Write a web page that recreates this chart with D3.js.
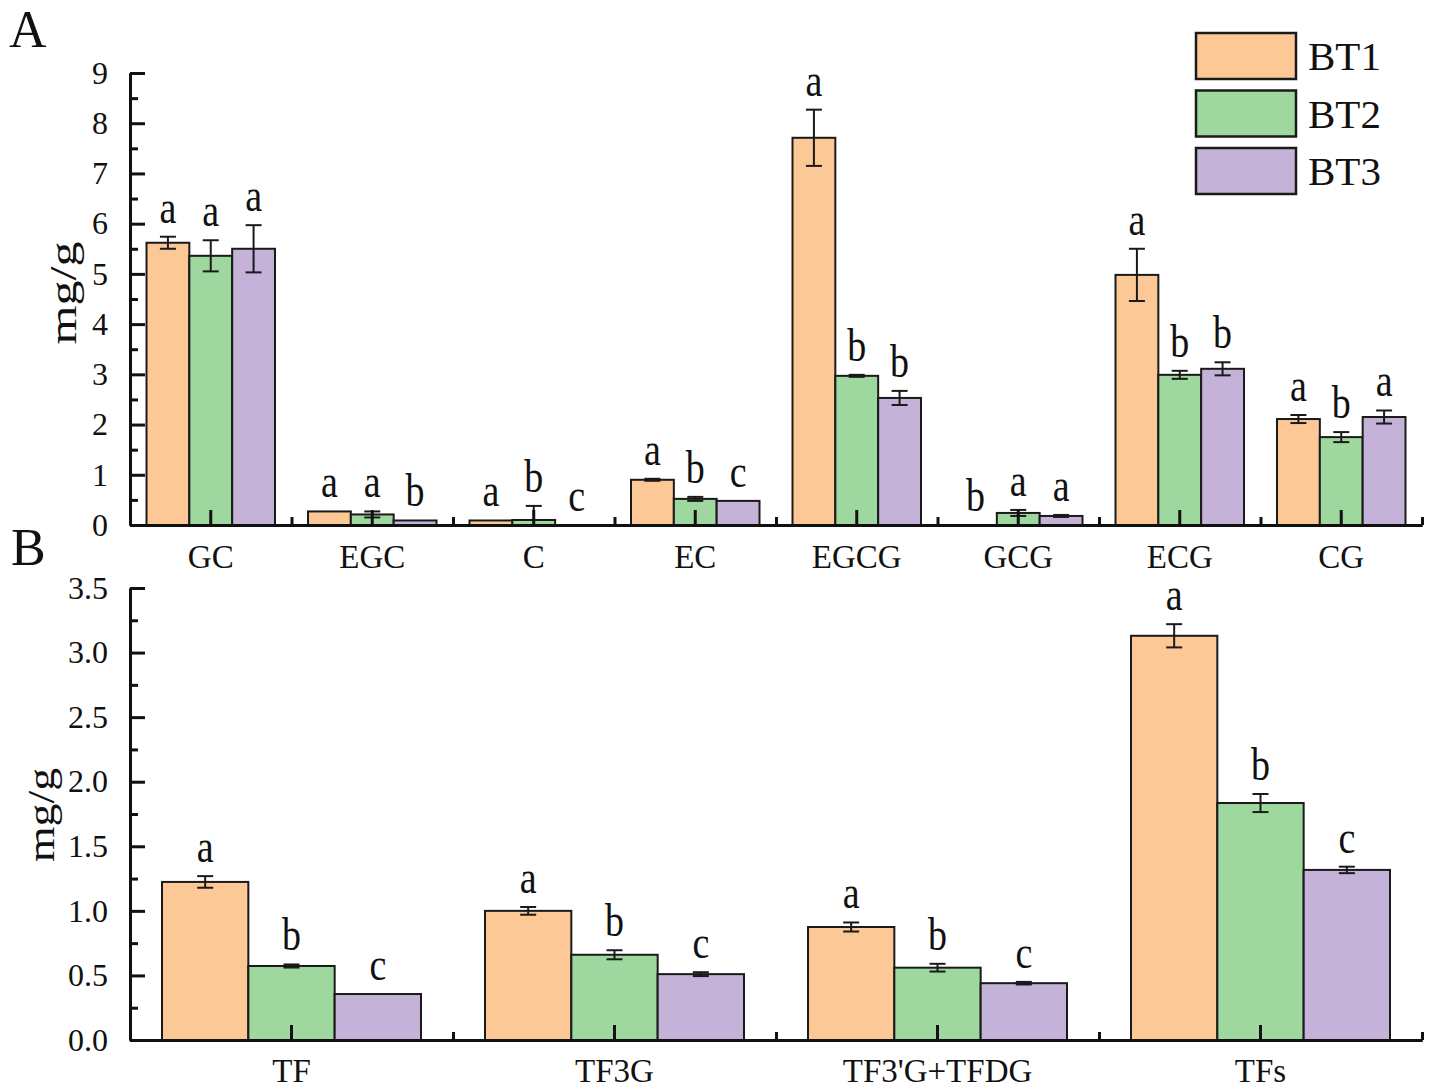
<!DOCTYPE html>
<html>
<head>
<meta charset="utf-8">
<script src="https://cdn.jsdelivr.net/npm/d3@7"></script>
<style>
body { margin: 0; background: #fff; }
text { font-family: "Liberation Serif", "Times New Roman", serif; fill: #111; }
</style>
</head>
<body>
<svg id="chart" width="1429" height="1091"></svg>
<script>
"use strict"

// series
const series = ["BT1", "BT2", "BT3"];
const colors = ["#FCC896", "#9FD89E", "#C4B2D8"];

// panel A (catechins)
const catsA = ["GC", "EGC", "C", "EC", "EGCG", "GCG", "ECG", "CG"];
const bt1A = [5.62, 0.27, 0.09, 0.90, 7.71, 0.00, 4.98, 2.11];
const bt2A = [5.36, 0.21, 0.10, 0.52, 2.97, 0.24, 2.99, 1.75];
const bt3A = [5.50, 0.09, 0.00, 0.48, 2.53, 0.18, 3.11, 2.15];
const errA1 = [0.12, 0.00, 0.00, 0.02, 0.56, 0.00, 0.52, 0.08];
const errA2 = [0.31, 0.06, 0.28, 0.04, 0.02, 0.06, 0.08, 0.10];
const errA3 = [0.47, 0.00, 0.00, 0.00, 0.14, 0.02, 0.13, 0.13];
const letA1 = ["a", "a", "a", "a", "a", "b", "a", "a"];
const letA2 = ["a", "a", "b", "b", "b", "a", "b", "b"];
const letA3 = ["a", "b", "c", "c", "b", "a", "b", "a"];
const ticksA = [0, 1, 2, 3, 4, 5, 6, 7, 8, 9];

// panel B (theaflavins)
const catsB = ["TF", "TF3G", "TF3'G+TFDG", "TFs"];
const bt1B = [1.224, 1.00, 0.875, 3.13];
const bt2B = [0.573, 0.66, 0.56, 1.835];
const bt3B = [0.356, 0.51, 0.44, 1.317];
const errB1 = [0.045, 0.03, 0.035, 0.09];
const errB2 = [0.012, 0.035, 0.03, 0.07];
const errB3 = [0.00, 0.015, 0.01, 0.025];
const letB1 = ["a", "a", "a", "a"];
const letB2 = ["b", "b", "b", "b"];
const letB3 = ["c", "c", "c", "c"];
const ticksB = [0, 0.5, 1.0, 1.5, 2.0, 2.5, 3.0, 3.5];

const svg = d3.select("#chart");

/**
 * draws one panel of grouped bars with error bars and letters
 */
function drawPanel(opt) {
    const g = svg.append("g");
    const x = d3.scaleBand().domain(opt.cats).range([opt.left, opt.right]);
    const xs = d3.scaleBand().domain(series)
        .range([opt.pad, x.bandwidth() - opt.pad]);
    const y = d3.scaleLinear().domain([0, opt.ymax]).range([opt.bottom, opt.top]);

    const rows = [];
    opt.cats.forEach(function (c, i) {
        series.forEach(function (s, k) {
            rows.push({cat: c, s: s, k: k, v: opt.vals[k][i], e: opt.errs[k][i], l: opt.lets[k][i]});
        });
    });

    // bars
    g.selectAll("rect.bar").data(rows).join("rect")
        .attr("class", "bar")
        .attr("x", d => x(d.cat) + xs(d.s))
        .attr("y", d => y(d.v))
        .attr("width", xs.bandwidth())
        .attr("height", d => y(0) - y(d.v))
        .attr("fill", d => colors[d.k])
        .attr("stroke", "#1a1a1a")
        .attr("stroke-width", 2);

    // error bars
    const eb = g.selectAll("g.err").data(rows.filter(d => d.e > 0)).join("g")
        .attr("class", "err")
        .attr("stroke", "#1a1a1a")
        .attr("stroke-width", 2);
    const cx = d => x(d.cat) + xs(d.s) + xs.bandwidth() / 2;
    eb.append("line")
        .attr("x1", cx).attr("x2", cx)
        .attr("y1", d => y(d.v + d.e))
        .attr("y2", d => y(Math.max(0, d.v - d.e)));
    eb.append("line")
        .attr("x1", d => cx(d) - 8).attr("x2", d => cx(d) + 8)
        .attr("y1", d => y(d.v + d.e)).attr("y2", d => y(d.v + d.e));
    eb.filter(d => d.v - d.e > 0).append("line")
        .attr("x1", d => cx(d) - 8).attr("x2", d => cx(d) + 8)
        .attr("y1", d => y(d.v - d.e)).attr("y2", d => y(d.v - d.e));

    // significance letters
    g.selectAll("text.let").data(rows).join("text")
        .attr("class", "let")
        .attr("transform", d => "translate(" + cx(d) + "," + (y(d.v + d.e) - 14) + ") scale(1,1.2)")
        .attr("text-anchor", "middle")
        .style("font-size", "38px")
        .text(d => d.l);

    // y axis (inward ticks)
    const ya = g.append("g").attr("transform", "translate(" + opt.left + ",0)")
        .call(d3.axisLeft(y).tickValues(opt.ticks).tickFormat(opt.fmt)
            .tickSize(-15).tickSizeOuter(0).tickPadding(22));
    ya.selectAll("text").style("font-size", "32px").attr("fill", "#111");
    g.append("g").attr("transform", "translate(" + opt.left + ",0)")
        .call(d3.axisLeft(y).tickValues(opt.minor).tickFormat("")
            .tickSize(-8).tickSizeOuter(0));

    // x axis: major ticks at centres, minor at boundaries
    const xa = g.append("g").attr("transform", "translate(0," + opt.bottom + ")")
        .call(d3.axisBottom(x).tickSize(-15).tickSizeOuter(0).tickPadding(opt.xpad));
    xa.selectAll("text").style("font-size", "33px").attr("fill", "#111");
    const xb = d3.scaleLinear().domain([0, opt.cats.length]).range([opt.left, opt.right]);
    g.append("g").attr("transform", "translate(0," + opt.bottom + ")")
        .call(d3.axisBottom(xb).tickValues(d3.range(1, opt.cats.length + 1)).tickFormat("")
            .tickSize(-8).tickSizeOuter(0));

    g.selectAll(".domain, .tick line")
        .attr("stroke", "#111")
        .attr("stroke-width", 3);

    // y label
    g.append("text")
        .attr("transform", "translate(" + opt.labX + "," + opt.labY + ") rotate(-90)")
        .attr("text-anchor", "middle")
        .attr("textLength", opt.labLen)
        .attr("lengthAdjust", "spacingAndGlyphs")
        .style("font-size", "38px")
        .text("mg/g");

    // panel letter
    g.append("text")
        .attr("x", opt.tagX).attr("y", opt.tagY)
        .style("font-size", "52px")
        .text(opt.tag);
}

drawPanel({
    cats: catsA, vals: [bt1A, bt2A, bt3A], errs: [errA1, errA2, errA3],
    lets: [letA1, letA2, letA3],
    left: 130, right: 1422, top: 73, bottom: 525, ymax: 9, pad: 16.5,
    ticks: ticksA, minor: d3.range(0.5, 9, 1), fmt: d3.format("d"), xpad: 20,
    labX: 76, labY: 293, labLen: 103, tag: "A", tagX: 9, tagY: 47
});

drawPanel({
    cats: catsB, vals: [bt1B, bt2B, bt3B], errs: [errB1, errB2, errB3],
    lets: [letB1, letB2, letB3],
    left: 130, right: 1422, top: 588, bottom: 1040, ymax: 3.5, pad: 32,
    ticks: ticksB, minor: d3.range(0.25, 3.5, 0.5), fmt: d3.format(".1f"), xpad: 19,
    labX: 54, labY: 815, labLen: 94, tag: "B", tagX: 11, tagY: 565
});

// legend
const leg = svg.append("g").attr("transform", "translate(1196,33)");
const ly = d3.scalePoint().domain(series).range([0, 115]);
leg.selectAll("rect").data(series).join("rect")
    .attr("x", 0).attr("y", d => ly(d))
    .attr("width", 100).attr("height", 46)
    .attr("fill", (d, i) => colors[i])
    .attr("stroke", "#1a1a1a")
    .attr("stroke-width", 2.5);
leg.selectAll("text").data(series).join("text")
    .attr("x", 112).attr("y", d => ly(d) + 37)
    .style("font-size", "41px")
    .text(d => d);
</script>
</body>
</html>
